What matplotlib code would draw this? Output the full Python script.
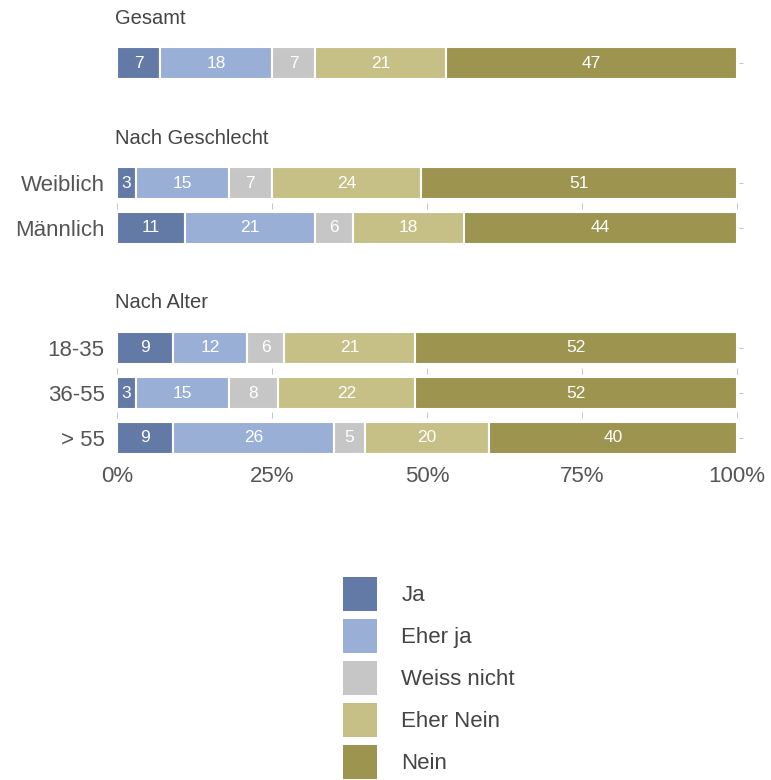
import numpy as np
import matplotlib.pyplot as plt
from matplotlib.patches import Patch

plt.rcParams['font.family'] = ['Liberation Sans', 'DejaVu Sans']

answers = ['Ja', 'Eher ja', 'Weiss nicht', 'Eher Nein', 'Nein']
colors = ['#637aa6', '#9aafd6', '#c6c6c6', '#c6c086', '#9d9450']

groups = ['Gesamt', 'Nach Geschlecht', 'Nach Alter']
rows = [[''], ['Weiblich', 'Männlich'], ['18-35', '36-55', '> 55']]
values = [
    [7, 18, 7, 21, 47],
    [3, 15, 7, 24, 51],
    [11, 21, 6, 18, 44],
    [9, 12, 6, 21, 52],
    [3, 15, 8, 22, 52],
    [9, 26, 5, 20, 40],
]
xticks = [0, 25, 50, 75, 100]

W, H = 771, 780
fig = plt.figure(figsize=(W / 100, H / 100), dpi=100)
ax = fig.add_axes([117 / W, 1 - 463 / H, 620 / W, 463 / H])

# y positions: one unit per row, a title slot above each group
ypos, titles_y, labels = [], [], []
u = -1.0
for g, r in zip(groups, rows):
    titles_y.append(u)
    for name in r:
        u += 1.0
        ypos.append(u)
        labels.append(name)
    u += 5 / 3
ypos = np.array(ypos)

data = np.array(values)
left = np.zeros(len(ypos))
for j, name in enumerate(answers):
    bars = ax.barh(ypos, data[:, j], left=left, height=0.73, color=colors[j],
                   edgecolor='white', linewidth=1.5, label=name)
    ax.bar_label(bars, labels=[str(v) for v in data[:, j]], label_type='center',
                 color='white', fontsize=12.5)
    left += data[:, j]

for g, ty in zip(groups, titles_y):
    ax.text(-0.3, ty, g, fontsize=14.5, color='#444444', ha='left', va='center')

# small gridline ticks between rows within a group, dashes on the right
start = 0
for r in rows:
    ys = ypos[start:start + len(r)]
    for y in ys[:-1]:
        ax.plot(xticks, [y + 0.5] * len(xticks), ls='none', marker='|',
                ms=5, color='#c4c4c4', mew=0.7, clip_on=False)
    start += len(r)
ax.plot([100.6] * len(ypos), ypos, ls='none', marker='_', ms=3,
        color='#c4c4c4', mew=0.7, clip_on=False)

top = -63 / 45
ax.set_xlim(0, 100)
ax.set_ylim(top + 463 / 45, top)
ax.set_yticks(ypos)
ax.set_yticklabels(labels)
ax.set_xticks(xticks)
ax.set_xticklabels([f'{t}%' for t in xticks])
ax.tick_params(axis='y', length=0, pad=9, labelsize=16, labelcolor='#555555')
ax.tick_params(axis='x', length=0, pad=2, labelsize=16, labelcolor='#555555')
for s in ax.spines.values():
    s.set_visible(False)

handles = [Patch(facecolor=c, edgecolor='none') for c in colors]
leg = fig.legend(handles, answers, loc='upper left',
                 bbox_to_anchor=(334 / W, 1 - 568 / H), frameon=False,
                 fontsize=16, handlelength=1.53, handleheight=1.98,
                 labelspacing=0.36, handletextpad=1.1, borderaxespad=0)
for t in leg.get_texts():
    t.set_color('#444444')

fig.savefig('out.png', dpi=100)
